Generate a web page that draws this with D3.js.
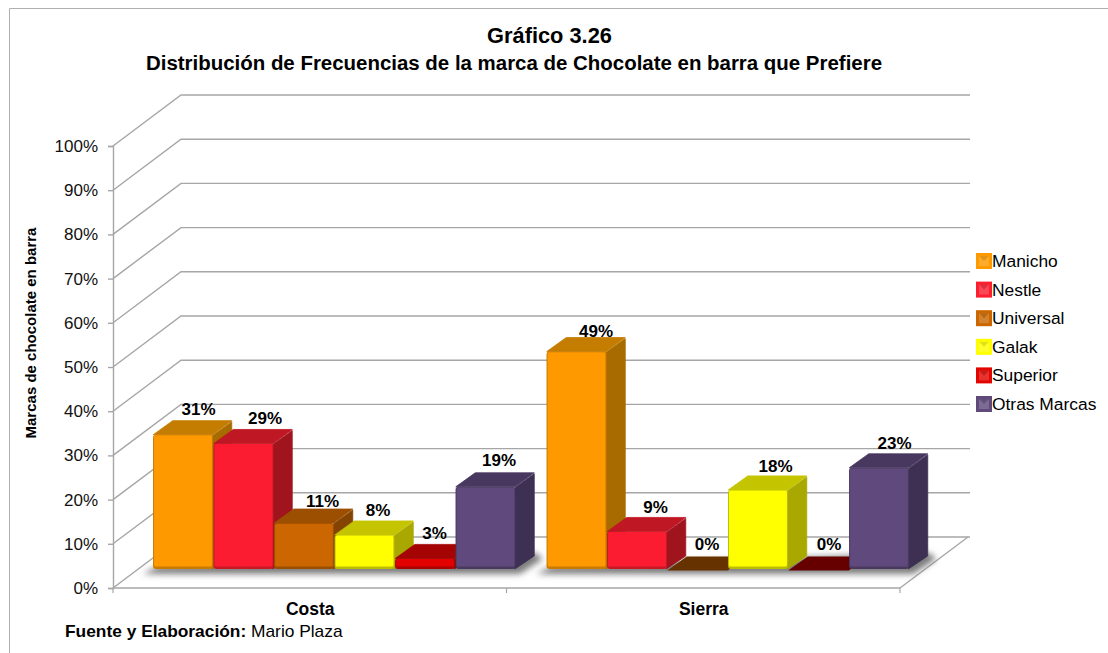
<!DOCTYPE html>
<html><head><meta charset="utf-8">
<script src="https://cdn.jsdelivr.net/npm/d3@7/dist/d3.min.js"></script>
<style>html,body{margin:0;padding:0;background:#fff}svg{display:block}text{font-family:"Liberation Sans",Arial,sans-serif;fill:#000}</style>
</head><body><div id="chart"></div>
<script>
const titleLines = ["Gráfico 3.26","Distribución de Frecuencias de la marca de Chocolate en barra que Prefiere"];
const categories = ["Costa","Sierra"];
const seriesNames = ["Manicho","Nestle","Universal","Galak","Superior","Otras Marcas"];
const manicho = [30.4,49.2];
const nestle = [28.4,8.5];
const universal = [10.4,0];
const galak = [7.7,17.9];
const superior = [2.4,0];
const otras = [18.6,22.9];
const seriesValues = [manicho,nestle,universal,galak,superior,otras];
const valueLabels = [["31%","29%","11%","8%","3%","19%"],["49%","9%","0%","18%","0%","23%"]];
const yTicks = [0,10,20,30,40,50,60,70,80,90,100];
const yTitle = "Marcas de chocolate en barra";
const sourceBold = "Fuente y Elaboración:";
const sourceText = " Mario Plaza";

const palette = [
 {front:"#ff9900",edge:"#c97a00",top:"#c47d00",side:"#a86b00"},
 {front:"#fb1f30",edge:"#c91824",top:"#bf1723",side:"#a0141e"},
 {front:"#cc6600",edge:"#9c4e00",top:"#9c4f00",side:"#844300"},
 {front:"#ffff00",edge:"#bcbc00",top:"#c4c400",side:"#a8a800"},
 {front:"#e20500",edge:"#aa0300",top:"#a50404",side:"#8c0303"},
 {front:"#604a7b",edge:"#4a395f",top:"#483860",side:"#3d3052"}];
const zeroTop = ["#663300","#663300","#663300","#663300","#660000","#663300"];
// label nudges relative to the bar's front top edge (chart layout, not data)
const labelNudge = [[[15,-26],[21,-25],[18,-22],[13,-25],[9,-25],[13,-27]],[[19,-21],[18,-24],[9,-25],[17,-24],[10,-25],[15,-25]]];

const W=1108,H=653;
const depth={dx:68,dy:-51}, barDepth={dx:19.5,dy:-14}, floorOff={dx:24.5,dy:-19};
const svg=d3.select("#chart").append("svg").attr("width",W).attr("height",H).attr("viewBox",[0,0,W,H]);
const defs=svg.append("defs");
defs.append("filter").attr("id","soft").attr("x","-10%").attr("y","-10%").attr("width","120%").attr("height","120%")
 .append("feGaussianBlur").attr("stdDeviation",0.7);
defs.append("filter").attr("id","shadow").attr("x","-10%").attr("y","-100%").attr("width","120%").attr("height","300%")
 .append("feGaussianBlur").attr("stdDeviation",3);

const grid="#a6a6a6";
svg.append("path").attr("d",`M${W},8.5H9.5V${H}`).attr("fill","none").attr("stroke","#b0b0b0").attr("stroke-width",1);

const y=d3.scaleLinear().domain([0,100]).range([588,146]);
const x0=d3.scaleBand().domain(categories).range([113,900]);
const x1=d3.scaleBand().domain(seriesNames).range([-181.5,181.5]);

const line=d3.line();
svg.append("g").selectAll("path").data(yTicks).join("path")
 .attr("d",t=>line([[113,y(t)],[113+depth.dx,y(t)+depth.dy],[900+depth.dx+2,y(t)+depth.dy]]))
 .attr("fill","none").attr("stroke",grid).attr("stroke-width",1.4);
svg.append("path").attr("d",line([[900,y(0)],[900+depth.dx,y(0)+depth.dy]])).attr("fill","none").attr("stroke",grid).attr("stroke-width",1.4);

const yAxis=d3.axisLeft(y).tickValues(yTicks).tickFormat(d=>d+"%").tickSize(5).tickPadding(10);
const gy=svg.append("g").attr("transform","translate(113,0)").call(yAxis);
gy.selectAll("path,line").attr("stroke",grid).attr("stroke-width",1.4);
gy.selectAll("text").attr("font-size",17).style("fill","#111");
const bottomTicks=[113,x0("Sierra"),900];
const xAxisG=svg.append("g");
xAxisG.append("path").attr("d",`M113,${y(0)}H900`).attr("stroke",grid).attr("stroke-width",1.4);
xAxisG.selectAll("line").data(bottomTicks).join("line")
 .attr("x1",d=>d).attr("x2",d=>d).attr("y1",y(0)).attr("y2",y(0)+5).attr("stroke",grid).attr("stroke-width",1.2);
xAxisG.selectAll("text").data(categories).join("text")
 .attr("x",c=>x0(c)+x0.bandwidth()/2+0.5).attr("y",615).attr("text-anchor","middle")
 .attr("font-weight","bold").attr("font-size",17.5).text(c=>c);

const by=v=>y(v)+floorOff.dy;
categories.forEach((cat,ci)=>{
 const cx=x0(cat)+x0.bandwidth()/2+floorOff.dx;
 const g=svg.append("g").attr("transform",`translate(${cx},0)`);
 const base=by(0);
 g.append("path").attr("filter","url(#shadow)").attr("fill","#7c7c7c")
  .attr("d",`M${x1.range()[0]-10},${base+5}L${x1.range()[1]+4},${base+5}L${x1.range()[1]+27},${base-10}L${x1.range()[1]+20},${base-16}L${x1.range()[0]+6},${base-3}Z`);
 seriesNames.forEach((s,si)=>{
  const v=seriesValues[si][ci], c=palette[si];
  const xl=x1(s), w=x1.bandwidth(), yt=by(v), r=xl+w;
  const bg=g.append("g");
  const dx=barDepth.dx, dy=barDepth.dy;
  if(v===0){
   bg.append("path").attr("fill",zeroTop[si]).attr("d",`M${xl},${base+1.5}L${xl+dx},${yt+dy+1.5}H${r+dx-2}L${r},${base+1.5}Z`);
   return;
  }
  bg.append("path").attr("fill",c.side).attr("stroke",c.side).attr("stroke-width",0.8).attr("stroke-linejoin","round")
    .attr("d",`M${r-1},${yt+1}L${r+dx-1},${yt+dy+1}V${base+dy+1}L${r-1},${base}Z`);
  bg.append("path").attr("fill",c.top).attr("stroke",c.top).attr("stroke-width",0.8).attr("stroke-linejoin","round")
    .attr("d",`M${xl+0.5},${yt}L${xl+dx+0.5},${yt+dy}H${r+dx-1}L${r-0.5},${yt}Z`);
  bg.append("rect").attr("x",xl+0.3).attr("y",yt).attr("width",w-0.6).attr("height",base-yt).attr("rx",3).attr("fill",c.edge);
  bg.append("rect").attr("x",xl+1.3).attr("y",yt+0.6).attr("width",w-2.6).attr("height",Math.max(base-yt-3,1)).attr("rx",1.5).attr("fill",c.front).attr("filter","url(#soft)");
 });
 seriesNames.forEach((s,si)=>{
  const v=seriesValues[si][ci], n=labelNudge[ci][si];
  g.append("text").attr("x",x1(s)+x1.bandwidth()/2+n[0]+0.5).attr("y",by(v)+n[1]+6)
   .attr("text-anchor","middle").attr("font-weight","bold").attr("font-size",17).text(valueLabels[ci][si]);
 });
});

svg.append("text").attr("x",549.5).attr("y",43).attr("text-anchor","middle").attr("font-weight","bold").attr("font-size",21.8).text(titleLines[0]);
svg.append("text").attr("x",514).attr("y",70).attr("text-anchor","middle").attr("font-weight","bold").attr("font-size",20.45).text(titleLines[1]);
svg.append("text").attr("transform","translate(36,333) rotate(-90)").attr("text-anchor","middle").attr("font-weight","bold").attr("font-size",15).text(yTitle);
const ly=d3.scalePoint().domain(seriesNames).range([261,404]);
const lg=svg.append("g").selectAll("g").data(seriesNames).join("g").attr("transform",s=>`translate(976,${ly(s)})`);
lg.append("rect").attr("x",0).attr("y",-8).attr("width",16).attr("height",16).attr("fill",(s,i)=>palette[i].front);
lg.append("path").attr("d","M3,-5H13V5H3Z").attr("fill",(s,i)=>d3.interpolateRgb(palette[i].front,"#ffffff")(0.18));
lg.append("path").attr("d","M3,-5H13L8,0Z").attr("fill",(s,i)=>palette[i].top).attr("opacity",0.5);
lg.append("text").attr("x",16).attr("y",6).attr("font-size",17.4).text(s=>s);
const src=svg.append("text").attr("x",65).attr("y",637).attr("font-size",17.35);
src.append("tspan").attr("font-weight","bold").text(sourceBold);
src.append("tspan").style("white-space","pre").text(sourceText);
</script></body></html>
